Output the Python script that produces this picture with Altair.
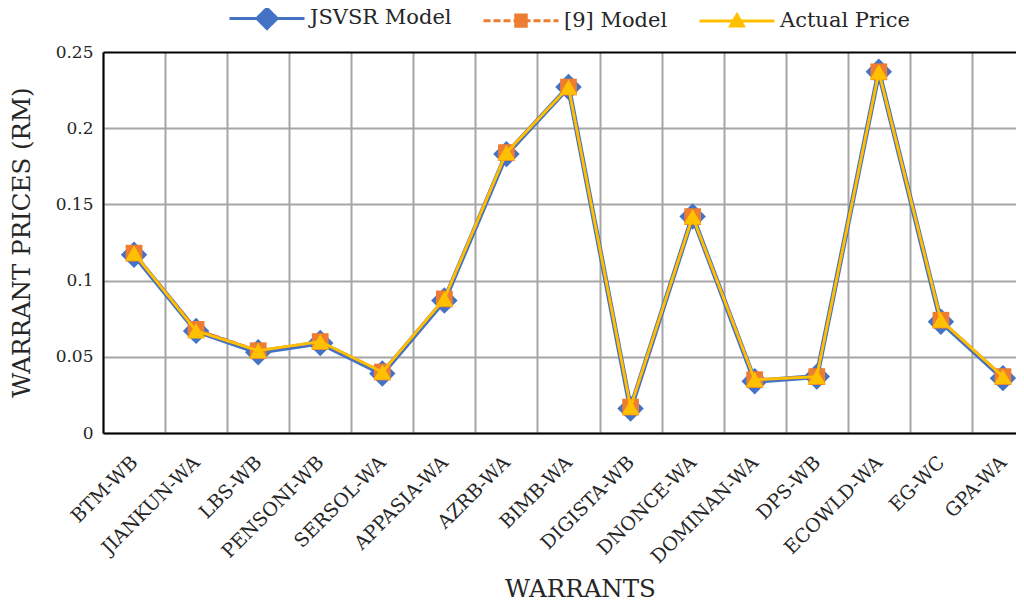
import altair as alt
import pandas as pd

# ---------------- data ----------------
warrants = ["BTM-WB", "JIANKUN-WA", "LBS-WB", "PENSONI-WB", "SERSOL-WA",
            "APPASIA-WA", "AZRB-WA", "BIMB-WA", "DIGISTA-WB", "DNONCE-WA",
            "DOMINAN-WA", "DPS-WB", "ECOWLD-WA", "EG-WC", "GPA-WA"]
jsvsr = [0.117, 0.067, 0.053, 0.059, 0.039, 0.087, 0.183, 0.227, 0.016, 0.142,
         0.034, 0.037, 0.237, 0.073, 0.036]
model9 = [0.118, 0.068, 0.054, 0.060, 0.040, 0.088, 0.184, 0.227, 0.017, 0.142,
          0.035, 0.037, 0.237, 0.074, 0.037]
actual = [0.118, 0.067, 0.054, 0.060, 0.040, 0.088, 0.184, 0.227, 0.017, 0.142,
          0.035, 0.037, 0.237, 0.074, 0.037]
series_names = ["JSVSR Model", "[9] Model", "Actual Price"]
series_colors = ["#4472C4", "#ED7D31", "#FFC000"]
y_ticks = [0, 0.05, 0.1, 0.15, 0.2, 0.25]

rows = []
for name, vals in zip(series_names, [jsvsr, model9, actual]):
    for w, v in zip(warrants, vals):
        rows.append({"warrant": w, "series": name, "price": v})
df = pd.DataFrame(rows)

FONT = "DejaVu Serif"
TEXT = "#262626"
GRID = "#A6A6A6"

# legend glyphs: line with a marker in its middle (square drawn as short strokes
# so that the dash pattern of the line does not cut it)
square_strokes = "".join(
    f"M-0.18,{yy}L0,{yy}M0,{yy}L0.18,{yy}" for yy in ["-0.15", "-0.075", "0", "0.075", "0.15"]
)
shape_expr = (
    "datum.value === 'JSVSR Model' ? 'M-1,0L1,0M-0.27,0L0,-0.27L0.27,0L0,0.27Z' : "
    f"datum.value === '[9] Model' ? 'M-1,0L1,0{square_strokes}' : "
    "'M-1,0L1,0M-0.17,0.13L0,-0.17L0.17,0.13Z'"
)

legend = alt.Legend(
    title=None, orient="none", direction="horizontal",
    legendX=125, legendY=-73, padding=0,
    labelFont=FONT, labelFontSize=21, labelColor=TEXT, labelOffset=4,
    labelLimit=400,
    symbolSize=5625, symbolStrokeWidth=3, columnPadding=25,
    symbolType=alt.ExprRef(shape_expr),
    symbolFillColor=alt.ExprRef("scale('color', datum.value)"),
    symbolStrokeColor=alt.ExprRef("scale('color', datum.value)"),
    symbolDash=alt.ExprRef("datum.value === '[9] Model' ? [7, 3] : [1, 0]"),
    symbolOpacity=1,
)

x_enc = alt.X(
    "warrant:N", sort=warrants,
    scale=alt.Scale(type="band", paddingInner=0, paddingOuter=0, range=[0, 931]),
    axis=alt.Axis(
        title="WARRANTS", tickBand="extent", grid=True, gridColor=GRID, gridWidth=2,
        ticks=False, domainColor="black", domainWidth=2,
        labelAngle=315, labelAlign="right", labelBaseline="middle", labelPadding=26,
        labelFont=FONT, labelFontSize=19, labelColor=TEXT,
        titleFont=FONT, titleFontSize=24.5, titleFontWeight="normal", titleColor=TEXT,
        titleX=477, titleY=156, titleAlign="center", titleBaseline="middle",
    ),
)
y_enc = alt.Y(
    "price:Q",
    scale=alt.Scale(domain=[0, 0.25], nice=False),
    axis=alt.Axis(
        title="WARRANT PRICES (RM)", values=y_ticks, format="~g",
        grid=True,
        gridColor={"condition": {"test": "datum.value >= 0.249", "value": "black"}, "value": GRID},
        gridWidth=2, ticks=False, domainColor="black", domainWidth=2,
        labelPadding=10, labelFont=FONT, labelFontSize=17, labelColor=TEXT,
        titleFont=FONT, titleFontSize=24.5, titleFontWeight="normal", titleColor=TEXT,
        titleAngle=270, titleX=-81, titleY=190, titleAlign="center", titleBaseline="middle",
    ),
)
color_enc = alt.Color("series:N", scale=alt.Scale(domain=series_names, range=series_colors),
                      legend=legend)

base = alt.Chart(df)


def line_layer(name, width, dash=None):
    kw = dict(strokeWidth=width)
    if dash:
        kw["strokeDash"] = dash
    return base.transform_filter(alt.datum.series == name).mark_line(**kw).encode(
        x=x_enc, y=y_enc, color=color_enc)


def point_layer(name, shape, size, color):
    return base.transform_filter(alt.datum.series == name).mark_point(
        shape=shape, filled=True, size=size, color=color, opacity=1).encode(x=x_enc, y=y_enc)


chart = alt.layer(
    line_layer("JSVSR Model", 5),
    point_layer("JSVSR Model", "diamond", 700, series_colors[0]),
    line_layer("[9] Model", 2.75, [6, 3]),
    point_layer("[9] Model", "square", 280, series_colors[1]),
    line_layer("Actual Price", 2.75),
    point_layer("Actual Price", "triangle-up", 310, series_colors[2]),
).properties(
    width=913, height=381,
    autosize=alt.AutoSizeParams(type="none"),
    padding={"left": 95, "top": 44, "right": 0, "bottom": 172},
    background="white",
).configure_view(stroke=None)

chart.save("out.html", embed_options={"renderer": "svg", "actions": False})
